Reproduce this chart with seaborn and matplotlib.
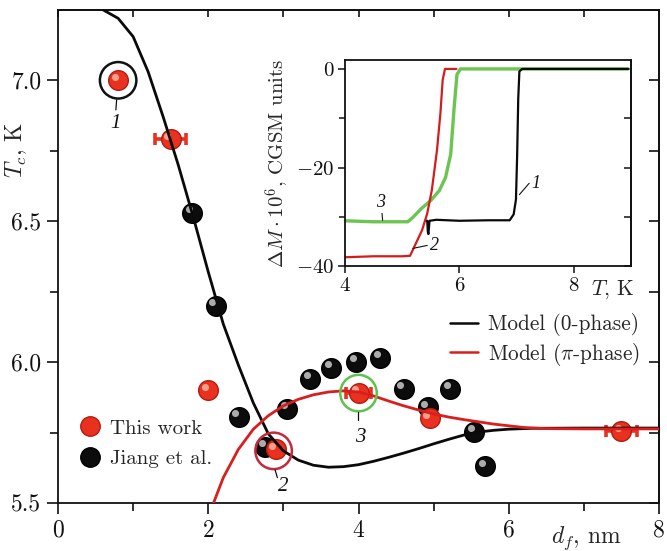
import matplotlib
matplotlib.use("Agg")
import matplotlib.pyplot as plt
import matplotlib.transforms as mtransforms
from matplotlib.lines import Line2D
import seaborn as sns

# ---- Tc versus ferromagnet thickness d_f ----
this_df = [0.8, 1.5, 2.0, 2.9, 4.0, 4.95, 7.5]
this_tc = [7.00, 6.79, 5.90, 5.69, 5.89, 5.80, 5.755]
this_xerr = [0.0, 0.21, 0.0, 0.0, 0.17, 0.0, 0.21]

jiang_df = [1.79, 2.10, 2.41, 2.76, 3.05, 3.36, 3.64, 3.97, 4.29, 4.60, 4.92, 5.22, 5.54, 5.69]
jiang_tc = [6.53, 6.20, 5.805, 5.70, 5.835, 5.94, 5.98, 6.00, 6.015, 5.905, 5.84, 5.905, 5.752, 5.63]

model0_df = [0.5, 0.6, 0.8, 1.0, 1.2, 1.4, 1.6, 1.8, 2.0, 2.2, 2.4, 2.6, 2.8, 3.0, 3.2, 3.4,
             3.6, 3.8, 4.0, 4.2, 4.4, 4.6, 4.8, 5.0, 5.2, 5.4, 5.6, 5.8, 6.0, 6.3, 7.0, 8.0]
model0_tc = [7.28, 7.25, 7.22, 7.155, 7.03, 6.87, 6.70, 6.515, 6.32, 6.135, 5.99, 5.855, 5.745,
             5.685, 5.652, 5.634, 5.627, 5.629, 5.636, 5.648, 5.662, 5.677, 5.693, 5.71, 5.726,
             5.741, 5.752, 5.758, 5.762, 5.765, 5.766, 5.766]

modelpi_df = [2.07, 2.2, 2.4, 2.6, 2.8, 3.0, 3.2, 3.4, 3.6, 3.8, 4.0, 4.2, 4.4, 4.6, 4.8, 5.0,
              5.2, 5.4, 5.6, 5.8, 6.0, 6.2, 6.5, 7.0, 8.0]
modelpi_tc = [5.50, 5.59, 5.69, 5.762, 5.81, 5.845, 5.868, 5.884, 5.894, 5.898, 5.894, 5.88,
              5.862, 5.845, 5.83, 5.816, 5.805, 5.796, 5.788, 5.78, 5.774, 5.768, 5.764, 5.763, 5.763]

# marked samples: position, ring colour, label
sample_df = [0.8, 2.87, 4.0]
sample_tc = [7.0, 5.685, 5.89]
sample_ring = ["#111111", "#c42a3c", "#5cc34c"]
sample_names = ["1", "2", "3"]

# ---- magnetization curves of samples 1-3 ----
m1_T = [5.40, 5.44, 5.45, 5.46, 5.48, 5.6, 6.0, 6.5, 6.88, 6.95, 6.99, 7.01, 7.03, 7.05, 7.1, 7.5, 8.0, 8.5, 8.95]
m1_M = [-30.8, -30.8, -33.0, -33.5, -30.8, -30.6, -30.8, -30.7, -30.7, -29.5, -26.5, -18.0, -6.0, -0.5, 0.0, 0.0, 0.0, 0.0, 0.0]

m2_T = [4.0, 4.5, 5.0, 5.14, 5.20, 5.35, 5.44, 5.52, 5.61, 5.67, 5.71, 5.75, 5.85, 5.95]
m2_M = [-38.2, -38.0, -38.0, -37.9, -36.4, -32.7, -29.3, -24.6, -16.5, -9.0, -2.2, 0.0, 0.0, 0.0]

m3_T = [4.0, 4.5, 5.10, 5.19, 5.33, 5.50, 5.65, 5.76, 5.85, 5.91, 5.96, 6.02, 7.0, 8.0, 8.95]
m3_M = [-30.8, -31.0, -31.0, -30.1, -28.4, -26.7, -24.7, -22.0, -17.3, -7.8, -1.1, 0.0, 0.0, 0.0, 0.0]

sns.set_theme(style="ticks")
plt.rcParams.update({
    "font.family": ["cmr10", "DejaVu Serif"],
    "mathtext.fontset": "cm",
    "axes.formatter.use_mathtext": True,
    "axes.unicode_minus": True,
    "axes.linewidth": 1.3,
    "axes.edgecolor": "#111111",
    "xtick.color": "#111111",
    "ytick.color": "#111111",
})

fig = plt.figure(figsize=(6.67, 5.51), dpi=100)
ax = fig.add_axes([0.087, 0.0871, 0.901, 0.895])

RED_BALL = "#e8321f"
BLACK_BALL = "#0c0c0c"


def spheres(axis, x, y, face, edge, shine, size=200, z=2):
    sns.scatterplot(x=x, y=y, ax=axis, s=size, color=face, edgecolor=edge,
                    linewidth=1.0, zorder=z, legend=False)
    off = mtransforms.ScaledTranslation(-2.6 / 72, 2.6 / 72, fig.dpi_scale_trans)
    axis.scatter(x, y, s=size * 0.13, color=shine, alpha=0.85, linewidths=0,
                 transform=axis.transData + off, zorder=z + 0.1)


# error bars of this work
for xv, yv, xe in zip(this_df, this_tc, this_xerr):
    if xe > 0:
        ax.errorbar([xv], [yv], xerr=[xe], fmt="none", ecolor=RED_BALL, elinewidth=2.6,
                    capsize=4, capthick=2.6, zorder=1.8)

spheres(ax, jiang_df, jiang_tc, BLACK_BALL, "#000000", "#c8c8c8")
spheres(ax, this_df, this_tc, RED_BALL, "#b81a10", "#ffb39c")

sns.lineplot(x=model0_df, y=model0_tc, ax=ax, color="#0a0a0a", lw=2.0, sort=False,
             estimator=None, zorder=3)
sns.lineplot(x=modelpi_df, y=modelpi_tc, ax=ax, color="#d81e1e", lw=2.0, sort=False,
             estimator=None, zorder=3.1)

# rings around the samples shown in the inset
for xv, yv, c in zip(sample_df, sample_tc, sample_ring):
    ax.scatter([xv], [yv], s=690, facecolors="none", edgecolors=c, linewidths=1.8, zorder=4)

# sample labels with short leaders
lab_kw = dict(fontsize=15, family="Liberation Serif", style="italic", ha="center",
              va="center", color="#111111", zorder=5)
ax.plot([0.78, 0.77], [6.93, 6.895], color="#111111", lw=0.9, zorder=5)
ax.text(0.76, 6.845, sample_names[0], **lab_kw)
ax.plot([2.89, 2.92], [5.617, 5.59], color="#111111", lw=0.9, zorder=5)
ax.text(3.0, 5.558, sample_names[1], **lab_kw)
ax.plot([3.99, 3.99], [5.823, 5.795], color="#111111", lw=0.9, zorder=5)
ax.text(4.02, 5.733, sample_names[2], **lab_kw)

ax.set_xlim(0, 8)
ax.set_ylim(5.5, 7.25)
ax.set_xticks([0, 2, 4, 6, 8])
ax.set_xticks([1, 3, 5, 7], minor=True)
ax.set_yticks([5.5, 6.0, 6.5, 7.0])
ax.set_yticks([5.75, 6.25, 6.75], minor=True)
ax.set_xticklabels(["0", "2", "4", "6", "8"])
ax.set_yticklabels(["5.5", "6.0", "6.5", "7.0"])
ax.tick_params(which="both", direction="out", labelsize=17, width=1.2, pad=4)
ax.tick_params(which="major", length=8)
ax.tick_params(which="minor", length=6)
ax.set_xlabel("")
ax.set_ylabel("")

top = ax.secondary_xaxis("top")
top.set_xticks([0, 1, 2, 3, 4, 5, 6, 7, 8])
top.tick_params(direction="in", length=5, width=1.2, labeltop=False)
right = ax.secondary_yaxis("right")
right.set_yticks([5.5, 5.75, 6.0, 6.25, 6.5, 6.75, 7.0, 7.25])
right.tick_params(direction="in", length=7, width=1.2, labelright=False)

ax.text(0.879, -0.072, r"$d_f$, nm", transform=ax.transAxes, fontsize=17,
        ha="center", va="center")
ax.text(-0.07, 0.716, r"$T_c$, K", transform=ax.transAxes, fontsize=17,
        ha="center", va="center", rotation=90)

# legends
model_handles = [Line2D([], [], color="#0a0a0a", lw=1.8),
                 Line2D([], [], color="#d81e1e", lw=1.8)]
leg1 = ax.legend(model_handles, ["Model (0-phase)", r"Model ($\pi$-phase)"],
                 loc="upper left", bbox_to_anchor=(0.653, 0.385), frameon=False,
                 fontsize=15.3, handlelength=1.3, handletextpad=0.45, labelspacing=0.22,
                 borderpad=0, borderaxespad=0)
ax.add_artist(leg1)
ball_handles = [Line2D([], [], ls="none", marker="o", markersize=14, markerfacecolor=RED_BALL,
                       markeredgecolor="#b81a10"),
                Line2D([], [], ls="none", marker="o", markersize=14, markerfacecolor=BLACK_BALL,
                       markeredgecolor="#000000")]
ax.legend(ball_handles, ["This work", "Jiang et al."], loc="upper left",
          bbox_to_anchor=(0.036, 0.17), frameon=False, fontsize=15, handlelength=0.95,
          handletextpad=0.5, labelspacing=0.55, borderpad=0, borderaxespad=0)

# ---- inset: magnetization ----
ins = fig.add_axes([0.517, 0.517, 0.429, 0.374])
sns.lineplot(x=m3_T, y=m3_M, ax=ins, color="#6cc452", lw=2.4, sort=False, estimator=None)
sns.lineplot(x=m1_T, y=m1_M, ax=ins, color="#0a0a0a", lw=1.6, sort=False, estimator=None)
sns.lineplot(x=m2_T, y=m2_M, ax=ins, color="#d41c1c", lw=1.6, sort=False, estimator=None)
ins.set_xlim(4, 9)
ins.set_ylim(-40, 1.8)
ins.set_xticks([4, 6, 8])
ins.set_xticklabels(["4", "6", "8"])
ins.set_yticks([-40, -20, 0])
ins.set_yticklabels([r"$-40$", r"$-20$", "0"])
ins.set_yticks([-30, -10], minor=True)
ins.tick_params(which="both", direction="out", labelsize=15, width=1.1, length=5, pad=3)
ins.tick_params(which="minor", length=4)
ins.set_xlabel("")
ins.set_ylabel(r"$\Delta M\cdot 10^6$, CGSM units", fontsize=15, labelpad=3)
ins.text(0.935, -0.115, r"$T$, K", transform=ins.transAxes, fontsize=15.5,
         ha="center", va="center")
ins_r = ins.secondary_yaxis("right")
ins_r.set_yticks([-40, -30, -20, -10, 0])
ins_r.tick_params(direction="in", length=5, width=1.1, labelright=False)

lab_in = dict(fontsize=13, family="Liberation Serif", style="italic", ha="center",
              va="center", color="#111111")
ins.plot([7.05, 7.22], [-25.5, -23.2], color="#111111", lw=0.8)
ins.text(7.33, -23.3, "1", **lab_in)
ins.plot([5.19, 5.44], [-36.4, -35.8], color="#111111", lw=0.8)
ins.text(5.56, -35.9, "2", **lab_in)
ins.plot([4.65, 4.66], [-29.3, -30.7], color="#111111", lw=0.8)
ins.text(4.62, -27.0, "3", **lab_in)

fig.savefig("out.png", dpi=100)
